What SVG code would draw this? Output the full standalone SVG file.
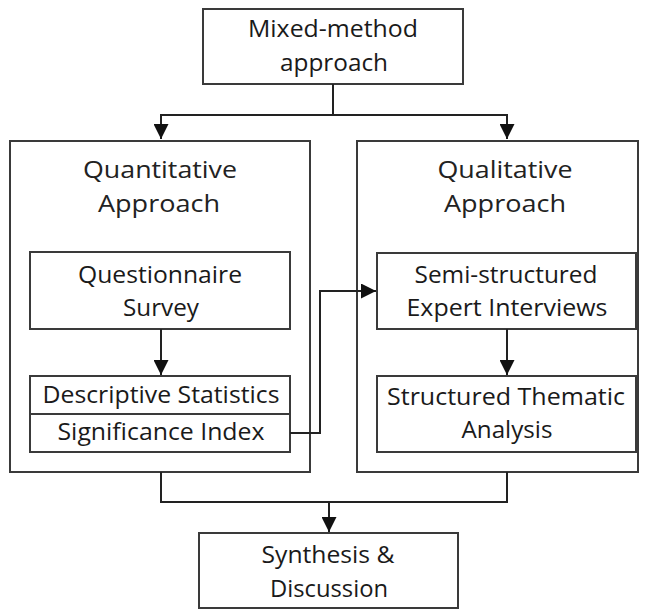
<svg xmlns="http://www.w3.org/2000/svg" width="651" height="610" viewBox="0 0 651 610">
<defs>
<marker id="arr" viewBox="0 0 10 10" refX="10" refY="5" markerWidth="7.5" markerHeight="7.5" markerUnits="strokeWidth" orient="auto">
<path d="M0,0 L10,5 L0,10 z" fill="#111"/>
</marker>
<style>
.box{fill:#fff;stroke:#3a3a3a;stroke-width:2}
.t{font-family:"Open Sans","Liberation Sans",sans-serif;font-size:23px;fill:#1a1a1a;text-anchor:middle}
.h{fill:#222}
.c{fill:none;stroke:#222;stroke-width:2}
</style>
</defs>
<rect width="651" height="610" fill="#fff"/>
<g id="mixed">
<rect class="box" x="203" y="9" width="260" height="75"/>
<text class="t" x="333" y="37" textLength="170" lengthAdjust="spacingAndGlyphs">Mixed-method</text>
<text class="t" x="334" y="71" textLength="108" lengthAdjust="spacingAndGlyphs">approach</text>
</g>
<g id="quant">
<rect class="box" x="10" y="141" width="300" height="331"/>
<text class="t h" x="160" y="178" textLength="154" lengthAdjust="spacingAndGlyphs">Quantitative</text>
<text class="t h" x="159" y="212" textLength="122" lengthAdjust="spacingAndGlyphs">Approach</text>
</g>
<g id="qual">
<rect class="box" x="357" y="141" width="281" height="331"/>
<text class="t h" x="505" y="178" textLength="135" lengthAdjust="spacingAndGlyphs">Qualitative</text>
<text class="t h" x="505" y="212" textLength="122" lengthAdjust="spacingAndGlyphs">Approach</text>
</g>
<g id="questionnaire">
<rect class="box" x="30" y="252" width="260" height="77"/>
<text class="t" x="160" y="283" textLength="164" lengthAdjust="spacingAndGlyphs">Questionnaire</text>
<text class="t" x="161" y="316" textLength="76" lengthAdjust="spacingAndGlyphs">Survey</text>
</g>
<g id="descriptive">
<rect class="box" x="30" y="376" width="260" height="38"/>
<text class="t" x="161" y="403" textLength="237" lengthAdjust="spacingAndGlyphs">Descriptive Statistics</text>
</g>
<g id="significance">
<rect class="box" x="30" y="414" width="260" height="38"/>
<text class="t" x="161" y="440" textLength="207" lengthAdjust="spacingAndGlyphs">Significance Index</text>
</g>
<g id="semi">
<rect class="box" x="377" y="253" width="259" height="76"/>
<text class="t" x="506" y="283" textLength="183" lengthAdjust="spacingAndGlyphs">Semi-structured</text>
<text class="t" x="507" y="316" textLength="201" lengthAdjust="spacingAndGlyphs">Expert Interviews</text>
</g>
<g id="thematic">
<rect class="box" x="377" y="376" width="259" height="76"/>
<text class="t" x="506" y="405" textLength="238" lengthAdjust="spacingAndGlyphs">Structured Thematic</text>
<text class="t" x="507" y="438" textLength="91" lengthAdjust="spacingAndGlyphs">Analysis</text>
</g>
<g id="synthesis">
<rect class="box" x="199" y="533" width="259" height="75"/>
<text class="t" x="328" y="563" textLength="133" lengthAdjust="spacingAndGlyphs">Synthesis &amp;</text>
<text class="t" x="329" y="597" textLength="118" lengthAdjust="spacingAndGlyphs">Discussion</text>
</g>
<g id="connectors">
<path class="c" d="M333,84 V115"/>
<path class="c" d="M333,115 H161 V139" marker-end="url(#arr)"/>
<path class="c" d="M333,115 H507 V139" marker-end="url(#arr)"/>
<path class="c" d="M161,329 V375" marker-end="url(#arr)"/>
<path class="c" d="M507,329 V375" marker-end="url(#arr)"/>
<path class="c" d="M290,433 H320 V291 H376" marker-end="url(#arr)"/>
<path class="c" d="M161,472 V502 H507 V472"/>
<path class="c" d="M329,502 V532" marker-end="url(#arr)"/>
</g>
</svg>
